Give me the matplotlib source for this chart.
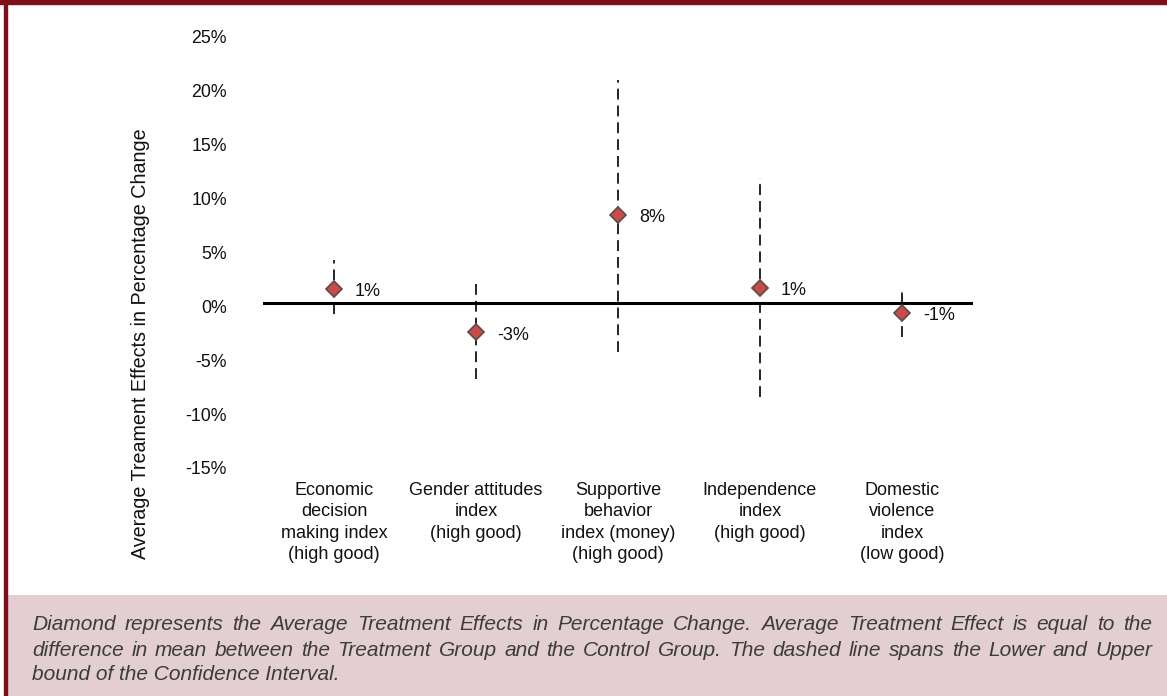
import numpy as np
import matplotlib.pyplot as plt
from matplotlib.patches import Rectangle
from matplotlib.transforms import ScaledTranslation

plt.rcParams['font.family'] = ['Liberation Sans', 'DejaVu Sans']

# data
categories = ["Economic\ndecision\nmaking index\n(high good)",
              "Gender attitudes\nindex\n(high good)",
              "Supportive\nbehavior\nindex (money)\n(high good)",
              "Independence\nindex\n(high good)",
              "Domestic\nviolence\nindex\n(low good)"]
ate = [1.3, -2.7, 8.2, 1.4, -0.9]
ci_low = [-1.0, -7.0, -4.5, -8.7, -3.1]
ci_high = [4.0, 1.95, 20.7, 11.6, 1.4]
ate_labels = ["1%", "-3%", "8%", "1%", "-1%"]
yticks = [-15, -10, -5, 0, 5, 10, 15, 20, 25]

caption_lines = [
    "Diamond represents the Average Treatment Effects in Percentage Change. Average Treatment Effect is equal to the",
    "difference in mean between the Treatment Group and the Control Group. The dashed line spans the Lower and Upper",
    "bound of the Confidence Interval.",
]

W, H = 1167, 696
dark_red = "#7d0f1b"
fig = plt.figure(figsize=(W / 100, H / 100), dpi=100)

# frame: top band, left rule, caption box
fig.patches.append(Rectangle((0, 1 - 4 / H), 1, 4 / H, transform=fig.transFigure,
                             color=dark_red, zorder=0))
fig.patches.append(Rectangle((7 / W, 0), 1 - 7 / W, (H - 595) / H, transform=fig.transFigure,
                             color="#e3cfd2", zorder=0, lw=0))
fig.patches.append(Rectangle((4 / W, 0), 3 / W, 1, transform=fig.transFigure,
                             color=dark_red, zorder=1))

ax = fig.add_axes([263 / W, (H - 465) / H, (973 - 263) / W, (465 - 33.5) / H])
ax.set_facecolor("none")
x = np.arange(len(categories)) + 0.5

for xi, lo, hi in zip(x, ci_low, ci_high):
    ln, = ax.plot([xi, xi], [lo, hi], color="black", lw=1.2, zorder=2)
    ln.set_dashes([6.5, 3.6])
ax.axhline(0, color="black", lw=2.2, zorder=3)
ax.plot(x, ate, ls="none", marker="D", ms=8.5, mfc="#c94a48", mec="#5b4a4a",
        mew=1.2, zorder=4)
for xi, v, lab in zip(x, ate, ate_labels):
    ax.annotate(lab, (xi, v), xytext=(15, -2), textcoords="offset points",
                va="center", ha="left", fontsize=13, color="#111111")

ax.set_xlim(0, len(categories))
ax.set_ylim(-15, 25)
ax.set_yticks(yticks)
ax.set_yticklabels([f"{t}%" for t in yticks])
ax.set_xticks(x)
ax.set_xticklabels(categories, linespacing=1.35)
ax.tick_params(axis="y", length=0, pad=26, labelsize=12.8, labelcolor="#111111")
ax.tick_params(axis="x", length=0, pad=12, labelsize=13, labelcolor="#111111")
for lab in ax.get_yticklabels():
    lab.set_transform(lab.get_transform() + ScaledTranslation(0, -0.03, fig.dpi_scale_trans))
for s in ax.spines.values():
    s.set_visible(False)

fig.text(140 / W, 1 - 344 / H, "Average Treament Effects in Percentage Change",
         rotation=90, ha="center", va="center", fontsize=14.2, color="#111111")

# justified italic caption
renderer = fig.canvas.get_renderer()
x0, x1 = 32, 1152
line_y = [625, 650, 675]
for i, (line, ly) in enumerate(zip(caption_lines, line_y)):
    kw = dict(fontsize=15, style="italic", color="#3c3c3c", va="center", ha="left")
    if i == len(caption_lines) - 1:
        fig.text(x0 / W, 1 - ly / H, line, **kw)
        continue
    words = line.split()
    texts = [fig.text(0, 1 - ly / H, w, **kw) for w in words]
    widths = [t.get_window_extent(renderer).width for t in texts]
    gap = (x1 - x0 - sum(widths)) / (len(words) - 1)
    xx = x0
    for t, w in zip(texts, widths):
        t.set_x(xx / W)
        xx += w + gap

fig.savefig("out.png", dpi=100)
